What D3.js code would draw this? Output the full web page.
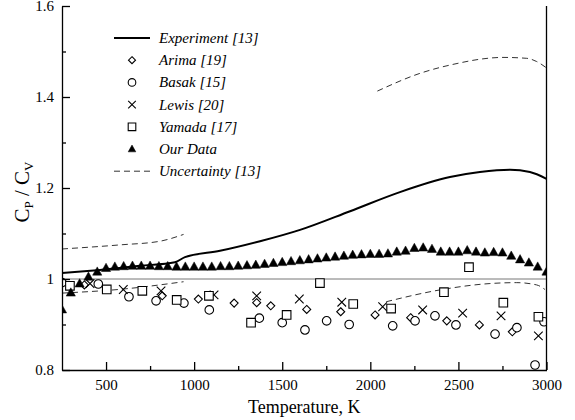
<!DOCTYPE html>
<html>
<head>
<meta charset="utf-8">
<script src="https://cdn.jsdelivr.net/npm/d3@7"></script>
<style>
body { margin: 0; background: #fff; }
svg text { font-family: "Liberation Serif", "Times New Roman", "DejaVu Serif", serif; fill: #000; }
.axis text { font-size: 15px; }
.axis line, .axis path { stroke: #000; stroke-width: 1.3; }
.legend text { font-size: 15px; font-style: italic; }
</style>
</head>
<body>
<script>
var width = 575,
    height = 420;

// tick labels
var xTicks = [500, 1000, 1500, 2000, 2500, 3000],
    xMinor = [750, 1250, 1750, 2250, 2750],
    yTicks = [0.8, 1, 1.2, 1.4, 1.6],
    yMinor = [0.9, 1.1, 1.3, 1.5];

// Experiment [13] curve, [T, Cp/Cv]
var experiment = [[250, 1.013], [466, 1.020], [693, 1.029], [891, 1.037], [948, 1.048],
    [1147, 1.062], [1374, 1.083], [1601, 1.108], [1885, 1.149], [2168, 1.191],
    [2452, 1.224], [2622, 1.235], [2793, 1.240], [2906, 1.235], [3000, 1.220]];

// uncertainty band pieces
var uncUpperLow = [[250, 1.066], [580, 1.075], [806, 1.083], [940, 1.098]];
var uncUpperHigh = [[2040, 1.413], [2282, 1.452], [2509, 1.475], [2622, 1.483], [2753, 1.487],
    [2888, 1.485], [2944, 1.478], [3000, 1.464]];
var uncLowerLow = [[250, 0.969], [600, 0.978], [940, 0.994]];
var uncLowerHigh = [[2090, 0.950], [2395, 0.976], [2679, 0.990], [2831, 0.992], [2944, 0.987], [2991, 0.977]];

var arima = [[377, 0.987], [819, 0.963], [1024, 0.956], [1227, 0.947], [1355, 0.948], [1435, 0.941],
    [1639, 0.933], [1832, 0.928], [2027, 0.921], [2229, 0.915], [2434, 0.908], [2619, 0.899], [2806, 0.884]];
var basak = [[250, 0.992], [456, 0.989], [630, 0.961], [784, 0.952], [942, 0.947], [1086, 0.932],
    [1370, 0.914], [1500, 0.904], [1629, 0.888], [1752, 0.908], [1880, 0.900], [2127, 0.897],
    [2254, 0.908], [2367, 0.919], [2486, 0.899], [2708, 0.879], [2832, 0.893], [2935, 0.811], [2986, 0.906]];
var lewis = [[409, 0.990], [598, 0.977], [812, 0.974], [1113, 0.965], [1355, 0.963], [1597, 0.956],
    [1838, 0.949], [2070, 0.939], [2297, 0.932], [2524, 0.925], [2742, 0.919], [2954, 0.875]];
var yamada = [[295, 0.985], [504, 0.977], [706, 0.974], [901, 0.954], [1084, 0.963], [1323, 0.904],
    [1525, 0.921], [1714, 0.991], [1903, 0.945], [2118, 0.935], [2418, 0.971], [2560, 1.026],
    [2755, 0.948], [2954, 0.917]];

// our data, every 50 K
var ourT = d3.range(250, 3001, 50);
var ourC = [0.933, 0.970, 0.990, 1.005, 1.016, 1.024, 1.027, 1.028, 1.029, 1.029,
    1.029, 1.028, 1.028, 1.027, 1.027, 1.027, 1.027, 1.027, 1.028, 1.028,
    1.029, 1.030, 1.031, 1.033, 1.035, 1.037, 1.039, 1.041, 1.043, 1.045,
    1.047, 1.049, 1.051, 1.053, 1.054, 1.055, 1.055, 1.056, 1.060, 1.062,
    1.068, 1.069, 1.066, 1.060, 1.060, 1.060, 1.063, 1.060, 1.058, 1.059,
    1.058, 1.051, 1.043, 1.036, 1.027, 1.016];

var legendNames = ["Experiment [13]", "Arima [19]", "Basak [15]", "Lewis [20]", "Yamada [17]", "Our Data", "Uncertainty [13]"];

var x = d3.scaleLinear().domain([250, 3000]).range([62, 546.5]);
var y = d3.scaleLinear().domain([0.8, 1.6]).range([370, 6]);

var svg = d3.select("body").append("svg")
    .attr("width", width)
    .attr("height", height);

svg.append("clipPath")
    .attr("id", "plotclip")
    .append("rect")
    .attr("x", x(250))
    .attr("y", y(1.6))
    .attr("width", x(3000) - x(250))
    .attr("height", y(0.8) - y(1.6));

//marker shapes
function shapePath(kind, s) {
    if (kind === "diamond") return "M0," + (-s) + "L" + s + ",0L0," + s + "L" + (-s) + ",0Z";
    if (kind === "square") return "M" + (-s) + "," + (-s) + "h" + 2 * s + "v" + 2 * s + "h" + (-2 * s) + "Z";
    if (kind === "cross") return "M" + (-s) + "," + (-s) + "L" + s + "," + s + "M" + s + "," + (-s) + "L" + (-s) + "," + s;
    if (kind === "triangle") return "M0," + (-s * 1.05) + "L" + s + "," + (s * 0.75) + "L" + (-s) + "," + (s * 0.75) + "Z";
    return "M" + s + ",0A" + s + "," + s + " 0 1,1 " + (-s) + ",0A" + s + "," + s + " 0 1,1 " + s + ",0Z";
}

var line = d3.line()
    .x(function(d) { return x(d[0]); })
    .y(function(d) { return y(d[1]); })
    .curve(d3.curveMonotoneX);

var plot = svg.append("g").attr("clip-path", "url(#plotclip)");

// reference line at 1
plot.append("line")
    .attr("x1", x(250)).attr("x2", x(3000))
    .attr("y1", y(1)).attr("y2", y(1))
    .attr("stroke", "#777")
    .attr("stroke-width", 1);

[uncUpperLow, uncUpperHigh, uncLowerLow, uncLowerHigh].forEach(function(seg) {
    plot.append("path")
        .datum(seg)
        .attr("d", line)
        .attr("fill", "none")
        .attr("stroke", "#333")
        .attr("stroke-width", 1)
        .attr("stroke-dasharray", "6,4");
});

plot.append("path")
    .datum(experiment)
    .attr("d", line)
    .attr("fill", "none")
    .attr("stroke", "#000")
    .attr("stroke-width", 2);

function drawMarkers(data, kind, s) {
    plot.append("g")
        .selectAll("path")
        .data(data)
        .enter()
        .append("path")
        .attr("transform", function(d) { return "translate(" + x(d[0]) + "," + y(d[1]) + ")"; })
        .attr("d", shapePath(kind, s))
        .attr("fill", kind === "triangle" ? "#000" : "#fff")
        .attr("stroke", "#000")
        .attr("stroke-width", kind === "triangle" ? 0.5 : 1.1);
}

drawMarkers(arima, "diamond", 4);
drawMarkers(basak, "circle", 4.3);
drawMarkers(lewis, "cross", 4.3);
drawMarkers(yamada, "square", 4.3);
drawMarkers(ourT.map(function(t, i) { return [t, ourC[i]]; }), "triangle", 4.6);

//axes
svg.append("g")
    .attr("class", "axis")
    .attr("transform", "translate(0," + y(0.8) + ")")
    .call(d3.axisBottom(x).tickValues(xTicks).tickSize(-8).tickSizeOuter(0).tickPadding(9).tickFormat(d3.format("d")));
svg.append("g")
    .attr("class", "axis")
    .attr("transform", "translate(0," + y(0.8) + ")")
    .call(d3.axisBottom(x).tickValues(xMinor).tickSize(-4).tickFormat(""))
    .select(".domain").remove();
svg.append("g")
    .attr("class", "axis")
    .attr("transform", "translate(" + x(250) + ",0)")
    .call(d3.axisLeft(y).tickValues(yTicks).tickSize(-8).tickSizeOuter(0).tickPadding(8).tickFormat(function(d) { return String(d); }));
svg.append("g")
    .attr("class", "axis")
    .attr("transform", "translate(" + x(250) + ",0)")
    .call(d3.axisLeft(y).tickValues(yMinor).tickSize(-4).tickFormat(""))
    .select(".domain").remove();
svg.selectAll(".axis").attr("font-family", null);

svg.append("line")
    .attr("x1", x(3000)).attr("x2", x(3000))
    .attr("y1", y(1.6)).attr("y2", y(0.8))
    .attr("stroke", "#000")
    .attr("stroke-width", 1.3);

// axis titles
svg.append("text")
    .attr("x", (x(250) + x(3000)) / 2)
    .attr("y", 413)
    .attr("text-anchor", "middle")
    .style("font-size", "18px")
    .text("Temperature, K");

var yl = svg.append("text")
    .attr("transform", "translate(29,192) rotate(-90)")
    .attr("text-anchor", "middle")
    .style("font-size", "21px");
yl.append("tspan").text("C");
yl.append("tspan").attr("dy", 4).style("font-size", "13px").text("P");
yl.append("tspan").attr("dy", -4).text(" / C");
yl.append("tspan").attr("dy", 4).style("font-size", "13px").text("V");

//legend
var legend = svg.append("g").attr("class", "legend");
var kinds = ["solid", "diamond", "circle", "cross", "square", "triangle", "dashed"];
legendNames.forEach(function(name, i) {
    var ly = 38 + i * 22.2;
    var k = kinds[i];
    if (k === "solid" || k === "dashed") {
        legend.append("line")
            .attr("x1", 114).attr("x2", 150)
            .attr("y1", ly).attr("y2", ly)
            .attr("stroke", k === "solid" ? "#000" : "#333")
            .attr("stroke-width", k === "solid" ? 2 : 1)
            .attr("stroke-dasharray", k === "solid" ? null : "6,4");
    } else {
        legend.append("path")
            .attr("transform", "translate(132," + ly + ")")
            .attr("d", shapePath(k, k === "diamond" ? 3.5 : 3.8))
            .attr("fill", k === "triangle" ? "#000" : "#fff")
            .attr("stroke", "#000")
            .attr("stroke-width", k === "triangle" ? 0.5 : 1.1);
    }
    legend.append("text")
        .attr("x", 159)
        .attr("y", ly + 5)
        .text(name);
});
</script>
</body>
</html>
